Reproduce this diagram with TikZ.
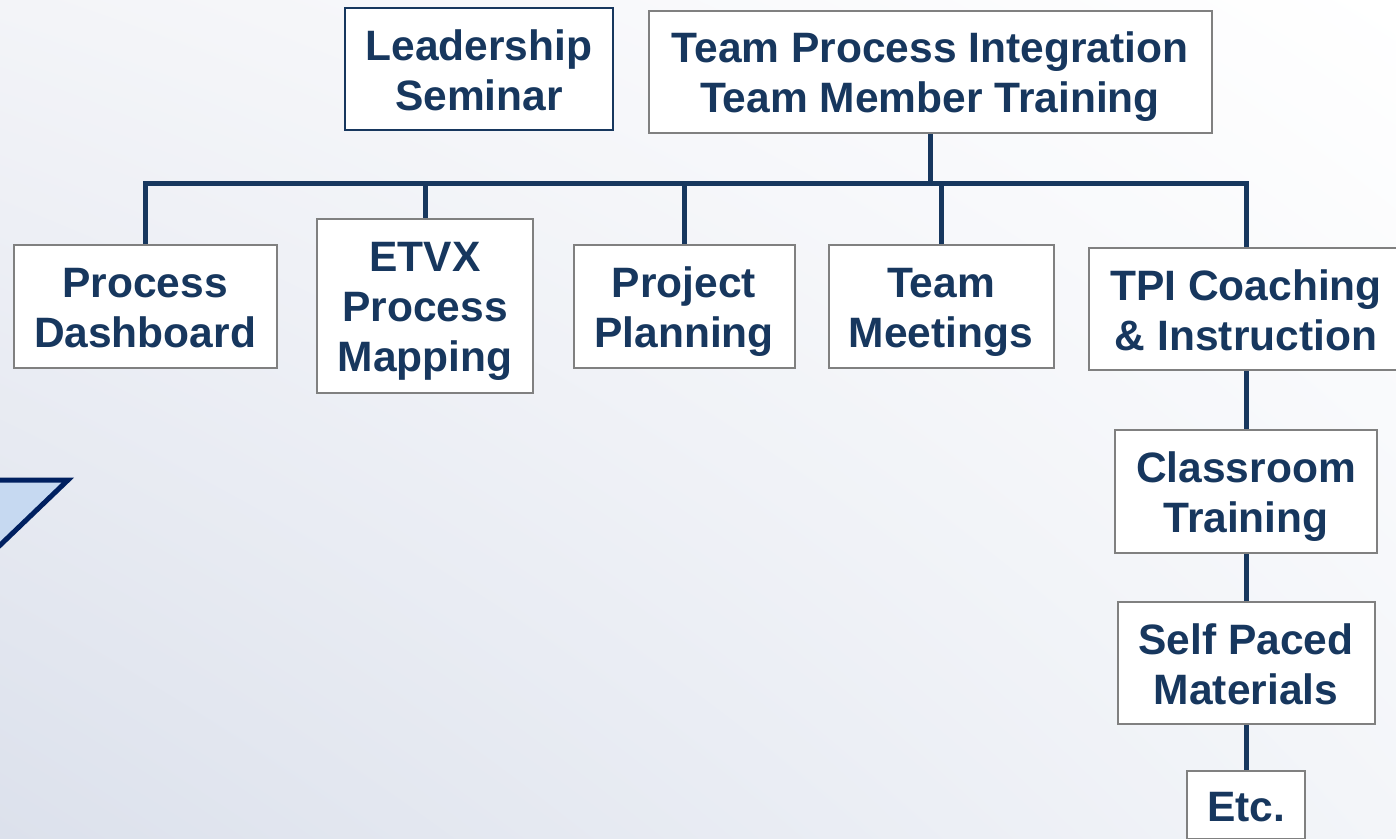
\documentclass[tikz,border=0pt]{standalone}
\usepackage{fontspec}
\setmainfont{Liberation Sans}
\usetikzlibrary{shadings}
\definecolor{navy}{HTML}{17375E}
\definecolor{boxgray}{HTML}{808080}
\definecolor{lightblue}{HTML}{C6D9F1}
\definecolor{deepblue}{HTML}{002060}
\definecolor{bgtl}{HTML}{F3F4F8}
\definecolor{bgbl}{HTML}{DCE1EC}
\definecolor{bgtr}{HTML}{FFFFFF}
\definecolor{bgbr}{HTML}{F3F5F9}
% uniform line strut, so every label is centred the same way
\newcommand\ls{\rule[-7.6pt]{0pt}{47.6pt}}
\begin{document}
\begin{tikzpicture}[x=1pt,y=-1pt,
  orgbox/.style={draw=boxgray, line width=2pt, fill=white, inner sep=0pt,
    align=center, text=navy,
    font=\fontsize{42.5}{50}\selectfont\bfseries},
  link/.style={draw=navy, line width=5pt}]
  \useasboundingbox (0,0) rectangle (1396,838);
  % soft background
  \shade[upper left=bgtl, upper right=bgtr, lower left=bgbl, lower right=bgbr]
    (0,0) rectangle (1396,838);
  % corner arrow-head shape
  \begin{scope}
    \clip (0,0) rectangle (1396,838);
    \draw[fill=lightblue, draw=deepblue, line width=5pt, line join=miter]
      (-30,480) -- (68,480) -- (-30,574) -- cycle;
  \end{scope}
  % boxes
  \node[orgbox, draw=navy, minimum width=268, minimum height=122] (lead) at (479,69) {\ls Leadership\\\ls Seminar};
  \node[orgbox, minimum width=563, minimum height=122] (tpi) at (930,72) {\ls Team Process Integration\\\ls Team Member Training};
  \node[orgbox, minimum width=263, minimum height=123] (dash) at (145,306.5) {\ls Process\\\ls Dashboard};
  \node[orgbox, minimum width=216, minimum height=174] (etvx) at (425,306) {\ls ETVX\\\ls Process\\\ls Mapping};
  \node[orgbox, minimum width=221, minimum height=123] (plan) at (684,306.5) {\ls Project\\\ls Planning};
  \node[orgbox, minimum width=225, minimum height=123] (meet) at (941,306.5) {\ls Team\\\ls Meetings};
  \node[orgbox, minimum width=314, minimum height=122] (coach) at (1246,309) {\ls TPI Coaching\\\ls \& Instruction};
  \node[orgbox, minimum width=262, minimum height=123] (class) at (1246,491.5) {\ls Classroom\\\ls Training};
  \node[orgbox, minimum width=257, minimum height=122] (self) at (1246,663) {\ls Self Paced\\\ls Materials};
  \node[orgbox, minimum width=118, minimum height=68] (etc) at (1246,805) {\ls Etc.};
  % connectors
  \coordinate (busl) at (145,183);
  \coordinate (busr) at (1246,183);
  \draw[link] (tpi.south) -- (tpi.south |- busl);
  \draw[link, line join=miter] (dash.north) -- (busl) -- (busr) -- (coach.north);
  \draw[link] (etvx.north |- busl) -- (etvx.north);
  \draw[link] (plan.north |- busl) -- (plan.north);
  \draw[link] (meet.north |- busl) -- (meet.north);
  \draw[link] (coach.south) -- (class.north);
  \draw[link] (class.south) -- (self.north);
  \draw[link] (self.south) -- (etc.north);
\end{tikzpicture}
\end{document}
